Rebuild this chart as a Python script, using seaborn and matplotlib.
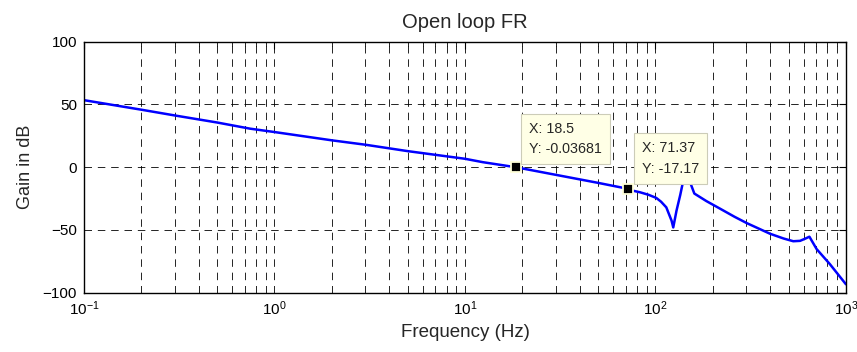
import numpy as np
import pandas as pd
import matplotlib
matplotlib.use("Agg")
import matplotlib.pyplot as plt
import seaborn as sns

# ---- data ----
freq = [0.1, 0.2, 0.3, 0.5, 0.744, 1.0, 2.0, 3.0, 5.0, 10.0, 12.4, 18.5, 30.0, 50.0,
        71.37, 76.0, 83.0, 92.0, 101.0, 107.0, 114.0, 121.5, 124.0, 129.0, 135.0,
        140.0, 145.5, 152.0, 160.0, 185.0, 218.0, 260.0, 301.0, 399.0, 470.0, 529.0,
        574.0, 610.0, 643.0, 702.0, 824.0, 1000.0]
gain = [53.4, 45.8, 41.2, 35.6, 30.7, 28.0, 21.4, 17.9, 12.8, 6.7, 4.0, -0.03681,
        -6.1, -12.5, -17.17, -18.7, -20.0, -22.0, -24.5, -27.5, -32.0, -42.6, -48.0,
        -34.6, -22.0, -10.6, -5.0, -12.0, -21.0, -27.0, -33.0, -39.5, -44.5, -53.0,
        -56.8, -59.0, -58.7, -57.0, -55.4, -65.3, -77.3, -93.3]
tip_x = [18.5, 71.37]
tip_y = [-0.03681, -17.17]
tip_labels = ["X: 18.5\nY: -0.03681", "X: 71.37\nY: -17.17"]
y_ticks = [-100, -50, 0, 50, 100]

sns.set_style("white")
plt.rcParams['font.family'] = ['Liberation Sans', 'DejaVu Sans']

df = pd.DataFrame({"freq": freq, "gain": gain})

fig = plt.figure(figsize=(8.57, 3.52), dpi=100)
ax = fig.add_axes([0.098, 0.1685, 0.8891, 0.7131])

sns.lineplot(data=df, x="freq", y="gain", color=(0, 0, 1), linewidth=1.8, ax=ax,
             estimator=None, sort=False)

ax.set_xscale("log")
ax.set_xlim(0.1, 1000)
ax.set_ylim(-100, 100)
ax.set_yticks(y_ticks)

ax.grid(True, which="major", axis="both", color="k", linestyle=(0, (9, 7)), linewidth=0.6)
ax.grid(True, which="minor", axis="x", color="k", linestyle=(0, (9, 7)), linewidth=0.6)

ax.tick_params(which="both", direction="in", top=True, right=True, labelsize=11,
               colors="k")
ax.tick_params(which="major", length=5, width=0.8, pad=5)
ax.tick_params(which="minor", length=3, width=0.6)
for s in ax.spines.values():
    s.set_color("k")
    s.set_linewidth(1.0)

ax.set_title("Open loop FR", fontsize=14.5, pad=9.5)
ax.set_xlabel("Frequency (Hz)", fontsize=13.5, labelpad=4)
ax.set_ylabel("Gain in dB", fontsize=13, labelpad=6)

# data tips
offsets = [(13, 11), (14, 13)]
for x, y, lab, off in zip(tip_x, tip_y, tip_labels, offsets):
    ax.plot([x], [y], marker="s", markersize=7, color="k",
            markeredgecolor=(1.0, 1.0, 0.85), markeredgewidth=1.3, zorder=6)
    ax.annotate(lab, xy=(x, y), xytext=off, textcoords="offset pixels",
                ha="left", va="bottom", fontsize=10.3, zorder=7, linespacing=1.6,
                bbox=dict(boxstyle="square,pad=0.55", fc=(1.0, 1.0, 0.9),
                          ec=(0.8, 0.8, 0.72), lw=0.8))

fig.savefig("out.png", dpi=100, facecolor="white")
